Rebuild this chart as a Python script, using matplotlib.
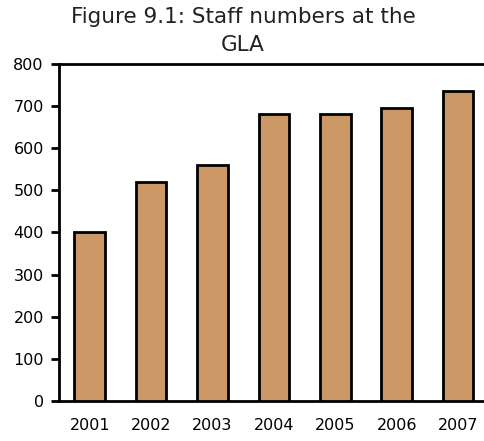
import matplotlib
matplotlib.use("Agg")
import matplotlib.pyplot as plt

# staff numbers per year
years = ["2001", "2002", "2003", "2004", "2005", "2006", "2007"]
staff = [400, 520, 560, 680, 680, 695, 735]
yticks = [0, 100, 200, 300, 400, 500, 600, 700, 800]

plt.rcParams["font.family"] = ["DejaVu Sans"]

fig = plt.figure(figsize=(4.84, 4.41), dpi=100)
# right side of the frame runs just past the figure edge
ax = fig.add_axes([0.122, 0.091, 0.888, 0.764])

ax.bar(range(len(years)), staff, width=0.5, color="#cc9966",
       edgecolor="black", linewidth=2, zorder=3)

ax.set_xlim(-0.5, len(years) - 0.5)
ax.set_ylim(0, 800)
ax.set_yticks(yticks)
ax.set_xticks(range(len(years)))
ax.set_xticklabels(years)

for s in ax.spines.values():
    s.set_linewidth(2)
ax.tick_params(axis="y", length=6, width=2, labelsize=11.5, pad=5)
ax.tick_params(axis="x", length=0, labelsize=11.5, pad=12)

fig.text(0.502, 0.985, "Figure 9.1: Staff numbers at the\nGLA", ha="center",
         va="top", fontsize=15.5, color="#222222", linespacing=1.55)

fig.savefig("out.png", dpi=100)
